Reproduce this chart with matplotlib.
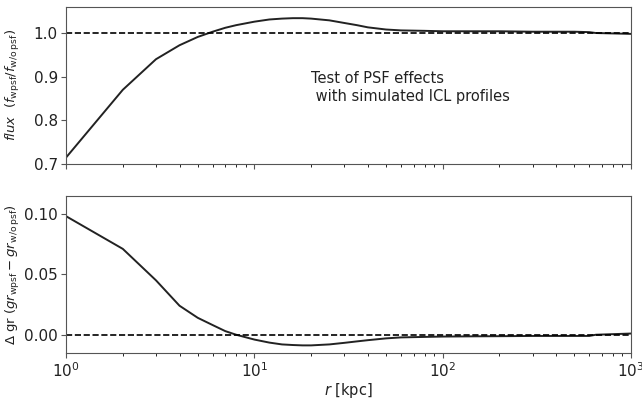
import numpy as np
import matplotlib
matplotlib.use('Agg')
import matplotlib.pyplot as plt

# radii in kpc
r = [1, 2, 3, 4, 5, 6, 7, 8, 10, 12, 14, 16, 18, 20, 25, 30, 35, 40, 50,
     60, 80, 100, 150, 200, 300, 400, 500, 600, 650, 1000]

# flux ratio with / without psf
flux_ratio = [0.715, 0.870, 0.940, 0.972, 0.991, 1.003, 1.012, 1.018, 1.026,
              1.031, 1.033, 1.034, 1.034, 1.033, 1.029, 1.023, 1.018, 1.013,
              1.008, 1.006, 1.005, 1.004, 1.004, 1.004, 1.003, 1.003, 1.003,
              1.002, 1.000, 0.998]

# colour difference g-r with / without psf
delta_gr = [0.098, 0.071, 0.045, 0.024, 0.014, 0.008, 0.003, 0.000, -0.004,
            -0.0065, -0.008, -0.0085, -0.0088, -0.0088, -0.008, -0.0067,
            -0.0055, -0.0045, -0.003, -0.0022, -0.0018, -0.0015, -0.0013,
            -0.0012, -0.001, -0.001, -0.001, -0.001, 0.000, 0.001]

plt.rcParams['font.size'] = 11
fig = plt.figure(figsize=(6.42, 4.01), dpi=100)
ax1 = fig.add_axes([0.103, 0.591, 0.880, 0.392])
ax2 = fig.add_axes([0.103, 0.120, 0.880, 0.392])

for ax in (ax1, ax2):
    ax.set_xscale('log')
    ax.set_xlim(1, 1000)
    for s in ax.spines.values():
        s.set_color('#555555')
    ax.tick_params(colors='#555555', labelcolor='#222222', pad=2.5)

ax1.plot(r, flux_ratio, color='#222222', lw=1.4)
ax1.axhline(1.0, color='black', ls='--', lw=1.2)
ax1.set_ylim(0.7, 1.06)
ax1.set_yticks([0.7, 0.8, 0.9, 1.0])
ax1.tick_params(axis='x', which='both', labelbottom=False)
ax1.set_ylabel(r'$flux$  $(f_{\rm wpsf}/f_{\rm w/o\,psf})$', color='#222222',
               fontsize=9.5)
ax1.yaxis.set_label_coords(-0.078, 0.5)
ax1.text(20, 0.875, 'Test of PSF effects\n with simulated ICL profiles',
         fontsize=10.5, color='#222222', ha='left', va='center')

ax2.plot(r, delta_gr, color='#222222', lw=1.4)
ax2.axhline(0.0, color='black', ls='--', lw=1.2)
ax2.set_ylim(-0.015, 0.115)
ax2.set_yticks([0.0, 0.05, 0.10])
ax2.set_yticklabels(['0.00', '0.05', '0.10'])
ax2.set_ylabel(r'$\Delta$ gr $(gr_{\rm wpsf} - gr_{\rm w/o\,psf})$', color='#222222',
               fontsize=9.5)
ax2.yaxis.set_label_coords(-0.078, 0.5)
ax2.set_xlabel(r'$r$ [kpc]', color='#222222', fontsize=10.5, labelpad=1)

fig.savefig('out.png', dpi=100)
